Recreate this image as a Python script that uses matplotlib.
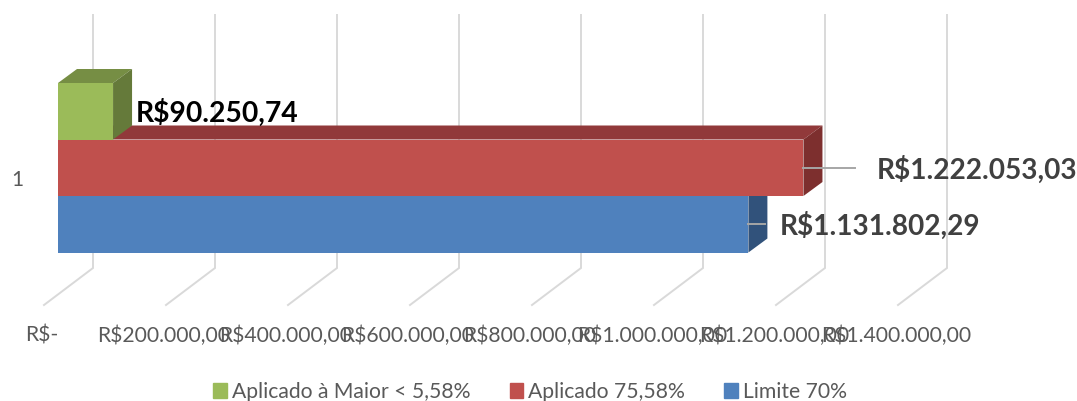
import matplotlib
matplotlib.use('Agg')
import matplotlib.pyplot as plt
from matplotlib.patches import Polygon, Patch

plt.rcParams['font.family'] = ['Lato', 'DejaVu Sans']

# data
series = ['Aplicado à Maior < 5,58%', 'Aplicado 75,58%', 'Limite 70%']
values = [90250.74, 1222053.03, 1131802.29]
value_labels = ['R$90.250,74', 'R$1.222.053,03', 'R$1.131.802,29']
tick_values = [0, 200000, 400000, 600000, 800000, 1000000, 1200000, 1400000]
tick_labels = ['R$-', 'R$200.000,00', 'R$400.000,00', 'R$600.000,00', 'R$800.000,00',
               'R$1.000.000,00', 'R$1.200.000,00', 'R$1.400.000,00']
category = '1'

# colours: front, top, side
front = ['#9BBB59', '#C0504D', '#4F81BD']
top = ['#768E44', '#91393A', '#3A5F8C']
side = ['#657A3A', '#7D2F2E', '#31527B']

W, H = 1077, 401
unit = 200000 / 122   # value per pixel
x0 = 58               # pixel of value 0

fig = plt.figure(figsize=(W / 100, H / 100), dpi=100)
ax = fig.add_axes([0, 0, 1, 1])
ax.set_xlim(-x0 * unit, (W - x0) * unit)
ax.set_ylim(H, 0)     # y runs in pixels, x in R$
ax.axis('off')

dx = 19 * unit
dy = 14
wall = 35 * unit

# back wall grid and floor lines
for t in tick_values:
    ax.plot([t + wall, t + wall, t - 14 * unit], [15, 268, 305],
            color='#D9D9D9', lw=1.4, zorder=1, solid_joinstyle='miter')

# bars: blue first, then red, green last so each front hides the top below it
tops = [83, 139.5, 196]
height = 56.5
for i, v in enumerate(values):
    z = 5 - i
    y = tops[i]
    b = y + height
    ax.add_patch(Polygon([(0, y), (dx, y - dy), (v + dx, y - dy), (v, y)],
                         closed=True, fc=top[i], ec='none', zorder=z))
    ax.add_patch(Polygon([(v, y), (v + dx, y - dy), (v + dx, b - dy), (v, b)],
                         closed=True, fc=side[i], ec='none', zorder=z))
    ax.barh(y + height / 2, v, height=height, color=front[i], zorder=z)

# leader lines
ax.plot([values[1], values[1] + 52 * unit], [168, 168], color='#A6A6A6', lw=1.4, zorder=6)
ax.plot([values[2], values[2] + 17 * unit], [224, 224], color='#A6A6A6', lw=1.4, zorder=6)

# value labels
ax.text(values[0] + 23 * unit, 113, value_labels[0], fontsize=20.3, fontweight='bold',
        color='black', va='center', ha='left', zorder=7)
ax.text(values[1] + 73 * unit, 170, value_labels[1], fontsize=20.2, fontweight='bold',
        color='#404040', va='center', ha='left', zorder=7)
ax.text(values[2] + 31 * unit, 226, value_labels[2], fontsize=20.2, fontweight='bold',
        color='#404040', va='center', ha='left', zorder=7)

# axis text
for t, lab in zip(tick_values, tick_labels):
    ax.text(t - 16 * unit, 336, lab, fontsize=15.2, color='#595959', ha='center', va='center')
ax.text(-41 * unit, 180.5, category, fontsize=15, color='#595959', ha='center', va='center')

handles = [Patch(color=c, label=s) for c, s in zip(front, series)]
ax.legend(handles=handles, ncols=3, frameon=False, fontsize=15.2, labelcolor='#595959',
          loc='center', bbox_to_anchor=(530 / W, 1 - 392 / H),
          handlelength=0.66, handleheight=0.66, handletextpad=0.22, columnspacing=1.85,
          borderpad=0)

fig.savefig('out.png', dpi=100)
